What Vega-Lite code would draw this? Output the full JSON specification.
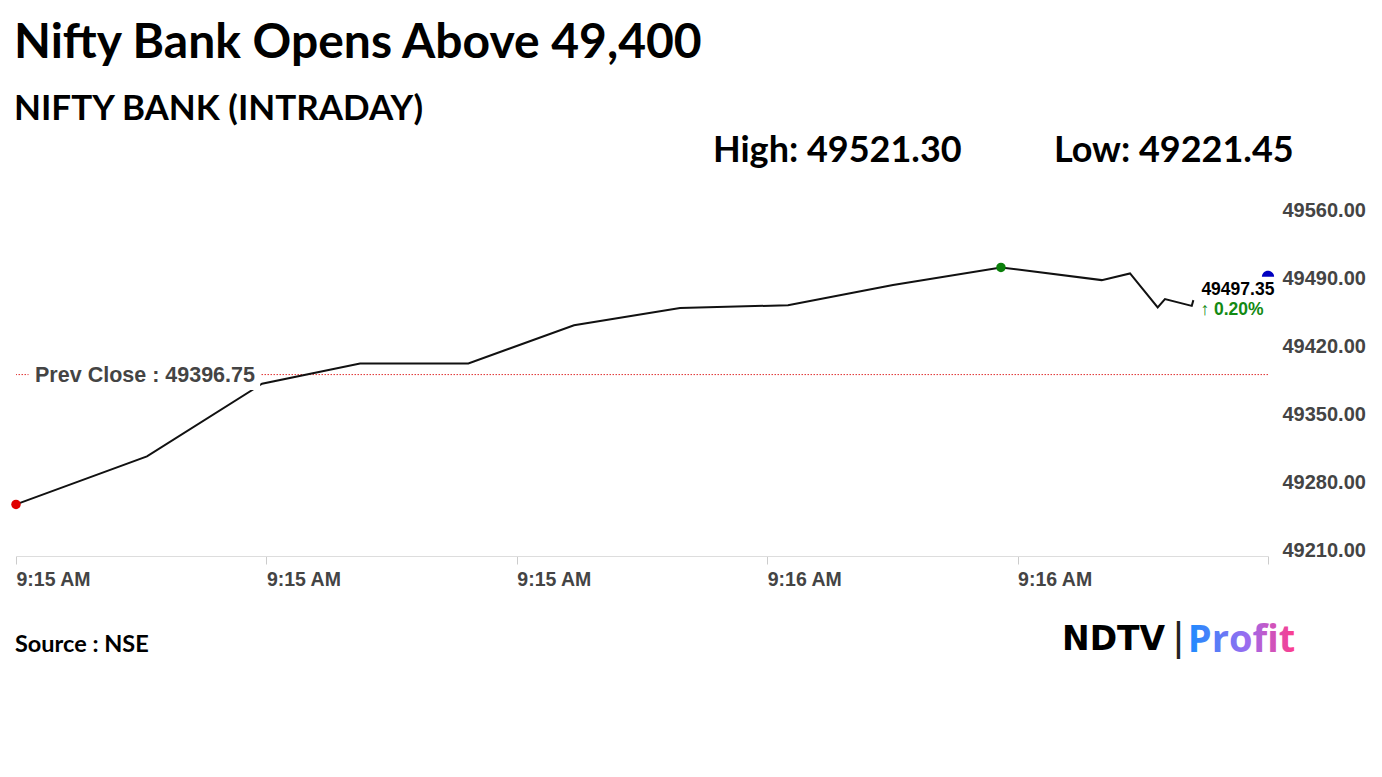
{
  "$schema": "https://vega.github.io/schema/vega-lite/v6.json",
  "width": 1252,
  "height": 340,
  "autosize": {"type": "none"},
  "padding": {"left": 16, "top": 216, "right": 114, "bottom": 221},
  "background": "white",
  "title": {
    "text": "Nifty Bank Opens Above 49,400",
    "subtitle": "NIFTY BANK (INTRADAY)",
    "anchor": "start",
    "frame": "group",
    "font": "Lato",
    "fontSize": 48,
    "fontWeight": "bold",
    "color": "#000000",
    "subtitleFont": "Lato",
    "subtitleFontSize": 35,
    "subtitleFontWeight": "bold",
    "subtitleColor": "#000000",
    "subtitlePadding": 24,
    "offset": 6,
    "dx": -2
  },
  "config": {"view": {"stroke": null}},
  "datasets": {
    "series": [
      {"t": 0, "price": 49263.1},
      {"t": 10.46, "price": 49312.6},
      {"t": 19.65, "price": 49387.3},
      {"t": 27.48, "price": 49408.1},
      {"t": 36.13, "price": 49408.1},
      {"t": 44.57, "price": 49447.6},
      {"t": 53.04, "price": 49465.2},
      {"t": 61.66, "price": 49468.2},
      {"t": 70.05, "price": 49488.9},
      {"t": 78.67, "price": 49507.1},
      {"t": 86.72, "price": 49494.0},
      {"t": 88.98, "price": 49500.9},
      {"t": 91.19, "price": 49465.9},
      {"t": 91.77, "price": 49474.4},
      {"t": 93.91, "price": 49467.5},
      {"t": 94.04, "price": 49473.4}
    ],
    "prev": [{"prev_close": 49396.75, "label": "Prev Close : 49396.75"}],
    "markers": [
      {"t": 0, "price": 49263.1, "marker": "Open"},
      {"t": 78.67, "price": 49507.1, "marker": "Peak"}
    ],
    "ltp": [{"t": 100, "price": 49497.35}],
    "last": [{"t": 94.04, "price": 49473.4, "ltp": "49497.35", "chg": "↑ 0.20%"}],
    "stats": [{"high": "High: 49521.30", "low": "Low: 49221.45"}],
    "footer": [{"source": "Source : NSE", "brand": "NDTV", "sep": "|", "product": "Profit"}]
  },
  "layer": [
    {
      "data": {"name": "prev"},
      "mark": {"type": "rule", "color": "#e03030", "strokeWidth": 1, "strokeDash": [1.5, 1.5]},
      "encoding": {
        "y": {"field": "prev_close", "type": "quantitative", "scale": {"domain": [49210, 49560], "nice": false, "zero": false}}
      }
    },
    {
      "data": {"name": "series"},
      "mark": {"type": "line", "color": "#111111", "strokeWidth": 2},
      "encoding": {
        "x": {
          "field": "t", "type": "quantitative",
          "scale": {"domain": [0, 100], "nice": false, "zero": false},
          "axis": {
            "values": [0, 20, 40, 60, 80, 100],
            "labelExpr": "datum.value >= 100 ? '' : (datum.value < 60 ? '9:15 AM' : '9:16 AM')",
            "title": null,
            "grid": false,
            "domainColor": "#dddddd",
            "tickColor": "#cccccc",
            "tickSize": 8,
            "labelAlign": "left",
            "labelFlush": false,
            "labelOverlap": false,
            "labelPadding": 6,
            "labelFont": "Liberation Sans",
            "labelFontSize": 19.5,
            "labelFontWeight": "bold",
            "labelColor": "#444444"
          }
        },
        "y": {
          "field": "price", "type": "quantitative",
          "scale": {"domain": [49210, 49560], "nice": false, "zero": false},
          "axis": {
            "orient": "right",
            "values": [49210, 49280, 49350, 49420, 49490, 49560],
            "format": ".2f",
            "title": null,
            "grid": false,
            "domain": false,
            "ticks": false,
            "labelPadding": 14,
            "labelOffset": -6,
            "labelFlush": false,
            "labelOverlap": false,
            "labelFont": "Liberation Sans",
            "labelFontSize": 20,
            "labelFontWeight": "bold",
            "labelColor": "#444444"
          }
        }
      }
    },
    {
      "data": {"name": "prev"},
      "mark": {"type": "rect", "color": "white", "opacity": 1},
      "encoding": {
        "x": {"datum": 1.0, "type": "quantitative", "scale": {"domain": [0, 100], "nice": false, "zero": false}},
        "x2": {"datum": 19.5},
        "y": {"datum": 49381, "type": "quantitative", "scale": {"domain": [49210, 49560], "nice": false, "zero": false}},
        "y2": {"datum": 49412}
      }
    },
    {
      "data": {"name": "prev"},
      "mark": {"type": "text", "align": "left", "baseline": "middle", "dy": 1, "font": "Liberation Sans", "fontSize": 21.5, "fontWeight": "bold", "color": "#444444"},
      "encoding": {
        "x": {"datum": 1.52, "type": "quantitative", "scale": {"domain": [0, 100], "nice": false, "zero": false}},
        "y": {"field": "prev_close", "type": "quantitative", "scale": {"domain": [49210, 49560], "nice": false, "zero": false}},
        "text": {"field": "label"}
      }
    },
    {
      "data": {"name": "markers"},
      "mark": {"type": "point", "filled": true, "opacity": 1, "size": 90},
      "encoding": {
        "x": {"field": "t", "type": "quantitative", "scale": {"domain": [0, 100], "nice": false, "zero": false}},
        "y": {"field": "price", "type": "quantitative", "scale": {"domain": [49210, 49560], "nice": false, "zero": false}},
        "color": {"field": "marker", "type": "nominal", "scale": {"domain": ["Open", "Peak"], "range": ["#e00000", "#0a7f0a"]}, "legend": null}
      }
    },
    {
      "data": {"name": "ltp"},
      "mark": {"type": "point", "filled": true, "opacity": 1, "size": 150, "color": "#0000c0", "shape": "M -1 0 A 1 1 0 0 1 1 0 Z"},
      "encoding": {
        "x": {"field": "t", "type": "quantitative", "scale": {"domain": [0, 100], "nice": false, "zero": false}},
        "y": {"field": "price", "type": "quantitative", "scale": {"domain": [49210, 49560], "nice": false, "zero": false}}
      }
    },
    {
      "data": {"name": "last"},
      "mark": {"type": "text", "align": "left", "baseline": "middle", "dx": 8, "dy": -10, "font": "Liberation Sans", "fontSize": 17.5, "fontWeight": "bold", "color": "#000000"},
      "encoding": {
        "x": {"field": "t", "type": "quantitative", "scale": {"domain": [0, 100], "nice": false, "zero": false}},
        "y": {"field": "price", "type": "quantitative", "scale": {"domain": [49210, 49560], "nice": false, "zero": false}},
        "text": {"field": "ltp"}
      }
    },
    {
      "data": {"name": "last"},
      "mark": {"type": "text", "align": "left", "baseline": "middle", "dx": 7, "dy": 10, "font": "Liberation Sans", "fontSize": 17.5, "fontWeight": "bold", "color": "#138a13"},
      "encoding": {
        "x": {"field": "t", "type": "quantitative", "scale": {"domain": [0, 100], "nice": false, "zero": false}},
        "y": {"field": "price", "type": "quantitative", "scale": {"domain": [49210, 49560], "nice": false, "zero": false}},
        "text": {"field": "chg"}
      }
    },
    {
      "data": {"name": "stats"},
      "mark": {"type": "text", "align": "left", "baseline": "alphabetic", "font": "Lato", "fontSize": 36, "fontWeight": "bold", "color": "#000000"},
      "encoding": {
        "x": {"datum": 55.67, "type": "quantitative", "scale": {"domain": [0, 100], "nice": false, "zero": false}},
        "y": {"datum": 49615.6, "type": "quantitative", "scale": {"domain": [49210, 49560], "nice": false, "zero": false}},
        "text": {"field": "high"}
      }
    },
    {
      "data": {"name": "stats"},
      "mark": {"type": "text", "align": "left", "baseline": "alphabetic", "font": "Lato", "fontSize": 36, "fontWeight": "bold", "color": "#000000"},
      "encoding": {
        "x": {"datum": 82.9, "type": "quantitative", "scale": {"domain": [0, 100], "nice": false, "zero": false}},
        "y": {"datum": 49615.6, "type": "quantitative", "scale": {"domain": [49210, 49560], "nice": false, "zero": false}},
        "text": {"field": "low"}
      }
    },
    {
      "data": {"name": "footer"},
      "mark": {"type": "text", "align": "left", "baseline": "alphabetic", "font": "Lato", "fontSize": 23.5, "fontWeight": "bold", "color": "#000000"},
      "encoding": {
        "x": {"datum": -0.08, "type": "quantitative", "scale": {"domain": [0, 100], "nice": false, "zero": false}},
        "y": {"datum": 49111.2, "type": "quantitative", "scale": {"domain": [49210, 49560], "nice": false, "zero": false}},
        "text": {"field": "source"}
      }
    },
    {
      "data": {"name": "footer"},
      "mark": {"type": "text", "align": "left", "baseline": "alphabetic", "font": "DejaVu Sans", "fontSize": 33, "fontWeight": "bold", "color": "#000000"},
      "encoding": {
        "x": {"datum": 83.55, "type": "quantitative", "scale": {"domain": [0, 100], "nice": false, "zero": false}},
        "y": {"datum": 49113.2, "type": "quantitative", "scale": {"domain": [49210, 49560], "nice": false, "zero": false}},
        "text": {"field": "brand"}
      }
    },
    {
      "data": {"name": "footer"},
      "mark": {"type": "text", "align": "center", "baseline": "middle", "font": "Liberation Sans", "fontSize": 40, "color": "#222222"},
      "encoding": {
        "x": {"datum": 92.85, "type": "quantitative", "scale": {"domain": [0, 100], "nice": false, "zero": false}},
        "y": {"datum": 49125, "type": "quantitative", "scale": {"domain": [49210, 49560], "nice": false, "zero": false}},
        "text": {"field": "sep"}
      }
    },
    {
      "data": {"name": "footer"},
      "mark": {"type": "text", "align": "left", "baseline": "alphabetic", "font": "Open Sans", "fontSize": 38, "fontWeight": "bold",
        "color": {"gradient": "linear", "x1": 0, "y1": 0, "x2": 1, "y2": 0, "stops": [{"offset": 0, "color": "#1a8cff"}, {"offset": 0.55, "color": "#9a6cf0"}, {"offset": 1, "color": "#ff3d8b"}]}},
      "encoding": {
        "x": {"datum": 93.6, "type": "quantitative", "scale": {"domain": [0, 100], "nice": false, "zero": false}},
        "y": {"datum": 49111.2, "type": "quantitative", "scale": {"domain": [49210, 49560], "nice": false, "zero": false}},
        "text": {"field": "product"}
      }
    }
  ]
}
